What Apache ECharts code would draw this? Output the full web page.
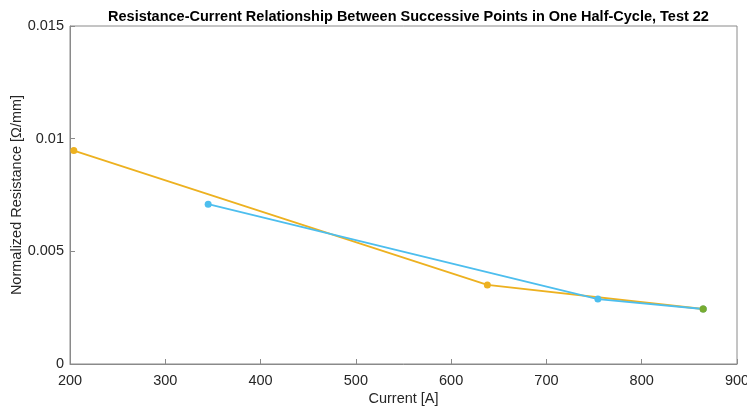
<!DOCTYPE html>
<html><head><meta charset="utf-8">
<script src="https://cdn.jsdelivr.net/npm/echarts@6/dist/echarts.min.js"></script>
<style>html,body{margin:0;padding:0;background:#fff}#c{width:747px;height:412px}</style>
</head><body><div id="c"></div>
<script>
const orangeX = [204, 638, 864.5];
const orangeY = [0.00947, 0.00351, 0.00244];
const blueX = [345, 754, 864.5];
const blueY = [0.00709, 0.00288, 0.00244];
const greenX = [864.5];
const greenY = [0.00244];
const xTicks = [200, 300, 400, 500, 600, 700, 800, 900];
const yTicks = [0, 0.005, 0.01, 0.015];

const pairs = (xs, ys) => xs.map((x, i) => [x, ys[i]]);
const font = 'Liberation Sans, Arial, Helvetica, sans-serif';
const axisCol = '#8a8a8a';
const txt = '#262626';

const chart = echarts.init(document.getElementById('c'), null, {renderer: 'canvas'});
chart.setOption({
  animation: false,
  backgroundColor: '#fff',
  title: {
    text: 'Resistance-Current Relationship Between Successive Points in One Half-Cycle, Test 22',
    left: 403.5, top: 4, textAlign: 'center',
    textStyle: {fontFamily: font, fontSize: 14.5, fontWeight: 'bold', color: '#000'}
  },
  grid: {left: 70, right: 10, top: 26, bottom: 48, show: true, borderColor: axisCol, borderWidth: 1,
    backgroundColor: '#fff', containLabel: false, outerBoundsMode: 'none'},
  xAxis: {
    type: 'value', min: 200, max: 900, interval: 100,
    name: 'Current [A]', nameLocation: 'middle', nameGap: 27, nameMoveOverlap: false,
    nameTextStyle: {fontFamily: font, fontSize: 14.5, color: txt},
    axisLine: {show: true, lineStyle: {color: axisCol}},
    axisTick: {show: true, inside: true, length: 5, lineStyle: {color: axisCol}},
    axisLabel: {fontFamily: font, fontSize: 14.5, color: txt, margin: 9,
      formatter: v => xTicks.includes(v) ? String(v) : ''},
    splitLine: {show: false}
  },
  yAxis: {
    type: 'value', min: 0, max: 0.015, interval: 0.005,
    name: 'Normalized Resistance [\u03A9/mm]', nameLocation: 'middle', nameGap: 46, nameRotate: 90,
    nameMoveOverlap: false,
    nameTextStyle: {fontFamily: font, fontSize: 14.5, color: txt},
    axisLine: {show: true, lineStyle: {color: axisCol}},
    axisTick: {show: true, inside: true, length: 5, lineStyle: {color: axisCol}},
    axisLabel: {fontFamily: font, fontSize: 14.5, color: txt, margin: 6,
      formatter: v => { const t = yTicks.find(k => Math.abs(k - v) < 1e-9); return t === undefined ? '' : String(+t.toFixed(3)); }},
    splitLine: {show: false}
  },
  series: [
    {type: 'line', data: pairs(orangeX, orangeY), color: '#EDB120', symbol: 'circle', symbolSize: 7,
      lineStyle: {width: 1.8, color: '#EDB120'}, itemStyle: {color: '#EDB120'}},
    {type: 'line', data: pairs(blueX, blueY), color: '#4DBEEE', symbol: 'circle', symbolSize: 7,
      lineStyle: {width: 1.8, color: '#4DBEEE'}, itemStyle: {color: '#4DBEEE'}},
    {type: 'line', data: pairs(greenX, greenY), color: '#77AC30', symbol: 'circle', symbolSize: 7,
      showSymbol: true, itemStyle: {color: '#77AC30'}}
  ]
});
</script></body></html>
